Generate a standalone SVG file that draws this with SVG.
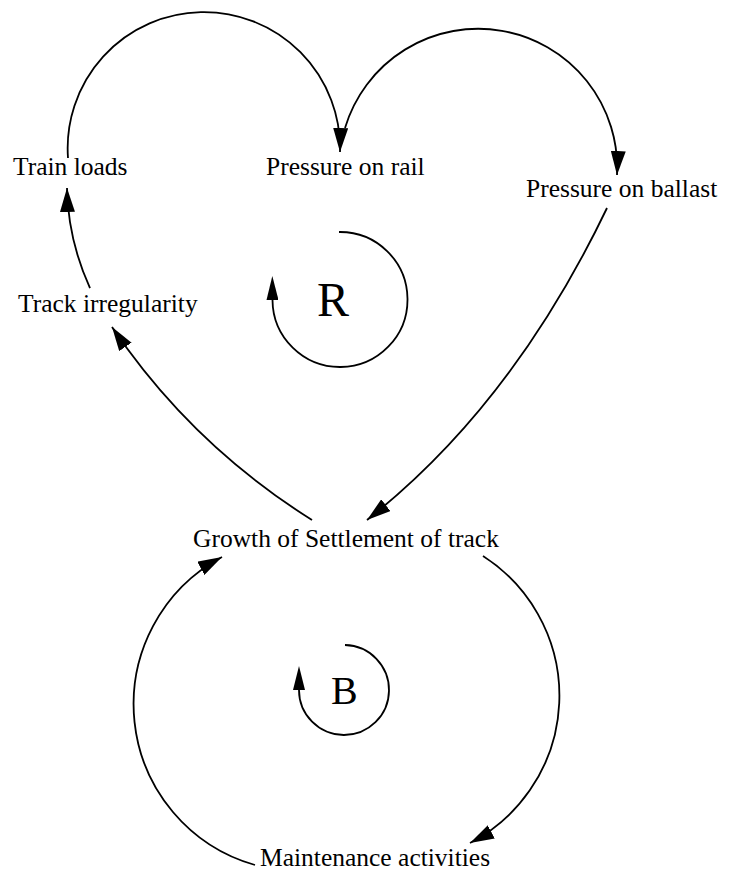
<svg xmlns="http://www.w3.org/2000/svg" width="732" height="871" viewBox="0 0 732 871">
  <style>
    text { font-family: 'Liberation Serif', 'DejaVu Serif', 'Times New Roman', serif; fill: #000; }
    .lbl { font-size: 25.5px; }
    .edge { fill: none; stroke: #000; stroke-width: 1.8; }
  </style>
  <defs>
    <marker id="arr" markerUnits="userSpaceOnUse" markerWidth="24" markerHeight="15" viewBox="0 0 24 15" refX="24" refY="7.5" orient="auto">
      <path d="M0,0 L24,7.5 L0,15 z" fill="#000"/>
    </marker>
    <marker id="arrLoop" markerUnits="userSpaceOnUse" markerWidth="24" markerHeight="12" viewBox="0 0 24 12" refX="0" refY="6" orient="auto">
      <path d="M0,0 L24,6 L0,12 z" fill="#000"/>
    </marker>
  </defs>

  <g id="connectors">
    <path class="edge" d="M68,158 A136.2,136.2 0 1 1 340,152" marker-end="url(#arr)"/>
    <path class="edge" d="M345,128 A139,139 0 0 1 617,175" marker-end="url(#arr)"/>
    <path class="edge" d="M607,208 Q512,406 367,520" marker-end="url(#arr)"/>
    <path class="edge" d="M312,520 Q191,444 112,327" marker-end="url(#arr)"/>
    <path class="edge" d="M90,288 Q68,240 67,188" marker-end="url(#arr)"/>
    <path class="edge" d="M483,556 A166,166 0 0 1 470,843" marker-end="url(#arr)"/>
    <path class="edge" d="M255,865 A167,167 0 0 1 222,557" marker-end="url(#arr)"/>
  </g>

  <g id="node-train-loads"><text class="lbl" font-family="Liberation Serif" x="13" y="175">Train loads</text></g>
  <g id="node-pressure-rail"><text class="lbl" font-family="Liberation Serif" x="266" y="175">Pressure on rail</text></g>
  <g id="node-pressure-ballast"><text class="lbl" font-family="Liberation Serif" x="526" y="197">Pressure on ballast</text></g>
  <g id="node-track-irregularity"><text class="lbl" font-family="Liberation Serif" x="18" y="312">Track irregularity</text></g>
  <g id="node-growth-settlement"><text class="lbl" font-family="Liberation Serif" x="193" y="547">Growth of Settlement of track</text></g>
  <g id="node-maintenance"><text class="lbl" font-family="Liberation Serif" x="260" y="866">Maintenance activities</text></g>

  <g id="loop-R">
    <path class="edge" d="M339,232 A67.5,67.5 0 1 1 272.5,300" marker-end="url(#arrLoop)"/>
    <text font-family="Liberation Serif" x="317" y="316" font-size="48">R</text>
  </g>
  <g id="loop-B">
    <path class="edge" d="M345,645 A45,45 0 1 1 299,690" marker-end="url(#arrLoop)"/>
    <text font-family="Liberation Serif" x="331" y="704" font-size="40">B</text>
  </g>
</svg>
